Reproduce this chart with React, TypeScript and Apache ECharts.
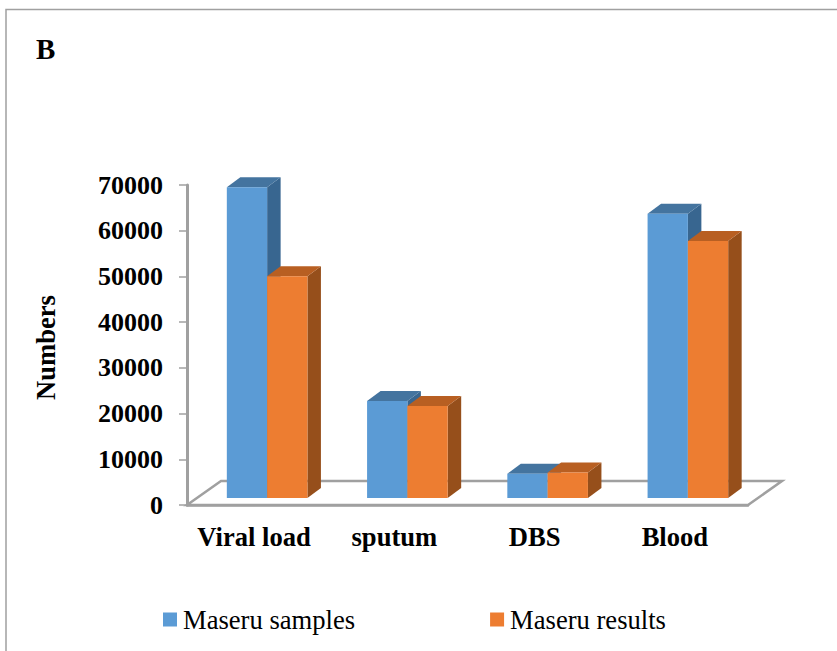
import React, { useEffect, useRef } from "react";
import * as echarts from "echarts";

const categories = ["Viral load", "sputum", "DBS", "Blood"];
const maseruSamples = [68000, 21200, 5300, 62200];
const maseruResults = [48500, 20100, 5600, 56200];
const yMax = 70000;
const yInterval = 10000;
const seriesNames = ["Maseru samples", "Maseru results"];
const font = '"Liberation Serif", "Times New Roman", serif';
const grey = "#A0A0A0";

const BAR_W = 40.3;
const DEPTH_X = 13.5;
const DEPTH_Y = 10;
const FRONT_X = 10;
const FRONT_Y = 7;
const FLOOR_X = 34;
const FLOOR_Y = 24;

function barRenderer(slot: number, front: string, top: string, side: string) {
  return (_params: any, api: any) => {
    const cat = api.value(0);
    const p = api.coord([cat, api.value(1)]);
    const base = api.coord([cat, 0]);
    const x0 = p[0] + FRONT_X + slot * BAR_W;
    const x1 = x0 + BAR_W;
    const yT = p[1] - FRONT_Y;
    const yB = base[1] - FRONT_Y;
    return {
      type: "group",
      children: [
        {
          type: "polygon",
          shape: { points: [[x1, yT], [x1 + DEPTH_X, yT - DEPTH_Y], [x1 + DEPTH_X, yB - DEPTH_Y], [x1, yB]] },
          style: { fill: side },
        },
        {
          type: "polygon",
          shape: { points: [[x0, yT], [x0 + DEPTH_X, yT - DEPTH_Y], [x1 + DEPTH_X, yT - DEPTH_Y], [x1, yT]] },
          style: { fill: top },
        },
        {
          type: "rect",
          shape: { x: x0, y: yT, width: BAR_W, height: yB - yT },
          style: { fill: front },
        },
      ],
    };
  };
}

function floorRenderer(params: any) {
  const c = params.coordSys;
  const yF = c.y + c.height;
  return {
    type: "polygon",
    shape: {
      points: [
        [c.x, yF],
        [c.x + c.width, yF],
        [c.x + c.width + FLOOR_X, yF - FLOOR_Y],
        [c.x + FLOOR_X, yF - FLOOR_Y],
      ],
    },
    style: { fill: "none", stroke: grey, lineWidth: 2.5 },
  };
}

export default function App() {
  const ref = useRef<HTMLDivElement>(null);

  useEffect(() => {
    document.body.style.margin = "0";
    document.body.style.overflow = "hidden";
    const chart = echarts.init(ref.current!, undefined, { renderer: "svg" });
    chart.setOption({
      animation: false,
      backgroundColor: "#ffffff",
      title: {
        text: "B",
        left: 31,
        top: 29,
        textStyle: { fontFamily: font, fontSize: 29, fontWeight: "bold", color: "#000" },
      },
      legend: {
        data: seriesNames,
        left: 163,
        top: 606,
        padding: 0,
        icon: "rect",
        itemWidth: 14,
        itemHeight: 14,
        itemGap: 135,
        textStyle: { fontFamily: font, fontSize: 26.6, color: "#000", padding: [0, 0, 0, 1] },
      },
      grid: { left: 187, top: 185, width: 561, height: 320 },
      xAxis: {
        type: "category",
        data: categories,
        axisLine: { show: true, lineStyle: { color: grey, width: 2.5 } },
        axisTick: { show: false },
        axisLabel: {
          interval: 0,
          fontFamily: font,
          fontSize: 26.6,
          fontWeight: "bold",
          color: "#000",
          margin: 18,
          padding: [0, 6, 0, 0],
        },
      },
      yAxis: {
        type: "value",
        min: 0,
        max: yMax,
        interval: yInterval,
        name: "Numbers",
        nameLocation: "middle",
        nameGap: 128,
        nameRotate: 90,
        nameTextStyle: {
          fontFamily: font,
          fontSize: 26.6,
          fontWeight: "bold",
          color: "#000",
          padding: [0, 5, 0, 0],
        },
        splitLine: { show: false },
        axisLine: { show: true, lineStyle: { color: grey, width: 3 } },
        axisTick: { show: true, length: 8, lineStyle: { color: grey, width: 1.5 } },
        axisLabel: {
          formatter: (v: number) => String(v),
          fontFamily: font,
          fontSize: 26,
          fontWeight: "bold",
          color: "#000",
          margin: 24,
        },
      },
      graphic: [
        {
          type: "polyline",
          shape: { points: [[6, 651], [6, 9.5], [837, 9.5]] },
          style: { fill: "none", stroke: grey, lineWidth: 1.5 },
        },
      ],
      series: [
        {
          name: "floor",
          type: "custom",
          silent: true,
          clip: false,
          renderItem: floorRenderer,
          data: [[0, 0]],
          encode: { x: 0, y: 1 },
        },
        {
          name: seriesNames[0],
          type: "custom",
          clip: false,
          itemStyle: { color: "#5B9BD5" },
          renderItem: barRenderer(-1, "#5B9BD5", "#44749F", "#386690"),
          data: maseruSamples.map((v, i) => [i, v]),
          encode: { x: 0, y: 1 },
        },
        {
          name: seriesNames[1],
          type: "custom",
          clip: false,
          itemStyle: { color: "#ED7D31" },
          renderItem: barRenderer(0, "#ED7D31", "#B85F22", "#964F1B"),
          data: maseruResults.map((v, i) => [i, v]),
          encode: { x: 0, y: 1 },
        },
      ],
    });
    return () => chart.dispose();
  }, []);

  return <div ref={ref} style={{ width: 837, height: 651 }} />;
}
